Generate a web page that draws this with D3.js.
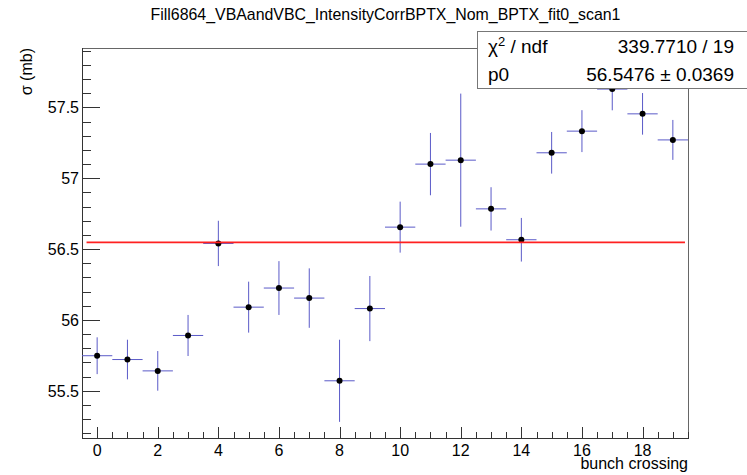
<!DOCTYPE html>
<html>
<head>
<meta charset="utf-8">
<script src="https://cdn.jsdelivr.net/npm/d3@7"></script>
<style>
  body { margin: 0; background: #fff; }
  text { font-family: "Liberation Sans", Arial, sans-serif; fill: #000; }
</style>
</head>
<body>
<svg id="plot" width="747" height="475"></svg>
<script>
// data
var title = "Fill6864_VBAandVBC_IntensityCorrBPTX_Nom_BPTX_fit0_scan1";
var bunch = [0, 1, 2, 3, 4, 5, 6, 7, 8, 9, 10, 11, 12, 13, 14, 15, 16, 17, 18, 19];
var sigma = [55.747, 55.72, 55.64, 55.89, 56.54, 56.09, 56.225, 56.154, 55.57, 56.08,
             56.655, 57.10, 57.128, 56.784, 56.566, 57.18, 57.333, 57.63, 57.455, 57.271];
var sigmaErr = [0.13, 0.14, 0.14, 0.145, 0.16, 0.18, 0.19, 0.21, 0.29, 0.23,
                0.18, 0.22, 0.47, 0.153, 0.154, 0.147, 0.148, 0.15, 0.147, 0.141];
var xTicks = [0, 2, 4, 6, 8, 10, 12, 14, 16, 18];
var yTicks = [55.5, 56, 56.5, 57, 57.5];
var fitP0 = 56.5476;
var fitRange = [-0.35, 19.4];
var statsRows = [["χ", "2", " / ndf", "339.7710 / 19"], ["p0", "", "", "56.5476 ± 0.0369"]];

var svg = d3.select("#plot"),
  MARGINS = { top: 48, right: 59, bottom: 37, left: 82 },
  W = 747, H = 475,
  x = d3.scaleLinear().domain([-0.5, 19.5]).range([MARGINS.left, W - MARGINS.right]),
  y = d3.scaleLinear().domain([55.166, 57.92]).range([H - MARGINS.bottom, MARGINS.top]);

var x0 = MARGINS.left, x1 = W - MARGINS.right, y0 = H - MARGINS.bottom, y1 = MARGINS.top;

// frame
svg.append("rect")
  .attr("x", x0 + 0.5).attr("y", y1 + 0.5)
  .attr("width", x1 - x0).attr("height", y0 - y1)
  .attr("fill", "none").attr("stroke", "#666");

// x axis, ticks point up into the frame
var xMinor = d3.range(-0.5, 19.51, 0.5);
svg.append("g").selectAll("line")
  .data(xMinor)
  .enter().append("line")
  .attr("x1", function(d) { return Math.round(x(d)) + 0.5; })
  .attr("x2", function(d) { return Math.round(x(d)) + 0.5; })
  .attr("y1", y0)
  .attr("y2", function(d) { return Math.abs(d % 2) < 1e-6 ? y0 - 11 : y0 - 6; })
  .attr("stroke", "#333");
svg.append("line")
  .attr("x1", x0).attr("x2", x1 + 1).attr("y1", y0 + 0.5).attr("y2", y0 + 0.5)
  .attr("stroke", "#333");
svg.append("g").selectAll("text")
  .data(xTicks)
  .enter().append("text")
  .attr("x", function(d) { return x(d); })
  .attr("y", 456)
  .attr("text-anchor", "middle")
  .style("font-size", "16px")
  .text(function(d) { return d; });

// y axis, ticks point right into the frame
var yMinor = d3.range(55.2, 57.95, 0.1).map(function(d) { return Math.round(d * 10) / 10; });
svg.append("g").selectAll("line")
  .data(yMinor)
  .enter().append("line")
  .attr("y1", function(d) { return Math.round(y(d)) + 0.5; })
  .attr("y2", function(d) { return Math.round(y(d)) + 0.5; })
  .attr("x1", x0)
  .attr("x2", function(d) { return Math.abs(d * 2 - Math.round(d * 2)) < 1e-6 ? x0 + 18 : x0 + 9; })
  .attr("stroke", "#333");
svg.append("line")
  .attr("x1", x0 + 0.5).attr("x2", x0 + 0.5).attr("y1", y1).attr("y2", y0 + 1)
  .attr("stroke", "#333");
svg.append("g").selectAll("text")
  .data(yTicks)
  .enter().append("text")
  .attr("x", 79)
  .attr("y", function(d) { return y(d) + 6; })
  .attr("text-anchor", "end")
  .style("font-size", "16px")
  .text(function(d) { return d; });

// axis titles
svg.append("text")
  .attr("x", x1)
  .attr("y", 469)
  .attr("text-anchor", "end")
  .style("font-size", "16px")
  .text("bunch crossing");

svg.append("text")
  .attr("transform", "translate(32," + y1 + ") rotate(-90)")
  .attr("text-anchor", "end")
  .style("font-size", "16px")
  .text("σ (mb)");

svg.append("text")
  .attr("x", W / 2 + 12)
  .attr("y", 20)
  .attr("text-anchor", "middle")
  .style("font-size", "15.9px")
  .text(title);

// error bars
var pts = bunch.map(function(b, i) { return { b: b, v: sigma[i], e: sigmaErr[i] }; });
var errColor = "#5a5ac8";
var g = svg.append("g");
g.selectAll(".ex")
  .data(pts)
  .enter().append("line")
  .attr("x1", function(d) { return x(d.b - 0.5); })
  .attr("x2", function(d) { return x(d.b + 0.5); })
  .attr("y1", function(d) { return y(d.v); })
  .attr("y2", function(d) { return y(d.v); })
  .attr("stroke", errColor);
g.selectAll(".ey")
  .data(pts)
  .enter().append("line")
  .attr("x1", function(d) { return x(d.b); })
  .attr("x2", function(d) { return x(d.b); })
  .attr("y1", function(d) { return y(d.v - d.e); })
  .attr("y2", function(d) { return y(d.v + d.e); })
  .attr("stroke", errColor);

// constant fit
svg.append("line")
  .attr("x1", x(fitRange[0])).attr("x2", x(fitRange[1]))
  .attr("y1", y(fitP0)).attr("y2", y(fitP0))
  .attr("stroke", "#ff2020").attr("stroke-width", 1.6);

g.selectAll("circle")
  .data(pts)
  .enter().append("circle")
  .attr("cx", function(d) { return x(d.b); })
  .attr("cy", function(d) { return y(d.v); })
  .attr("r", 3)
  .attr("fill", "#000");

// stats box
var box = svg.append("g");
box.append("rect")
  .attr("x", 477.5).attr("y", 31.5).attr("width", 275).attr("height", 57)
  .attr("fill", "#fff").attr("stroke", "#777");
statsRows.forEach(function(r, i) {
  var by = 53 + i * 28;
  var t = box.append("text").attr("x", 488).attr("y", by).style("font-size", "19px");
  t.append("tspan").text(r[0]);
  if (r[1]) t.append("tspan").attr("dy", -7).style("font-size", "13px").text(r[1]);
  if (r[2]) t.append("tspan").attr("dy", 7).text(r[2]);
  box.append("text").attr("x", 734).attr("y", by)
    .attr("text-anchor", "end").style("font-size", "19px").text(r[3]);
});
</script>
</body>
</html>
